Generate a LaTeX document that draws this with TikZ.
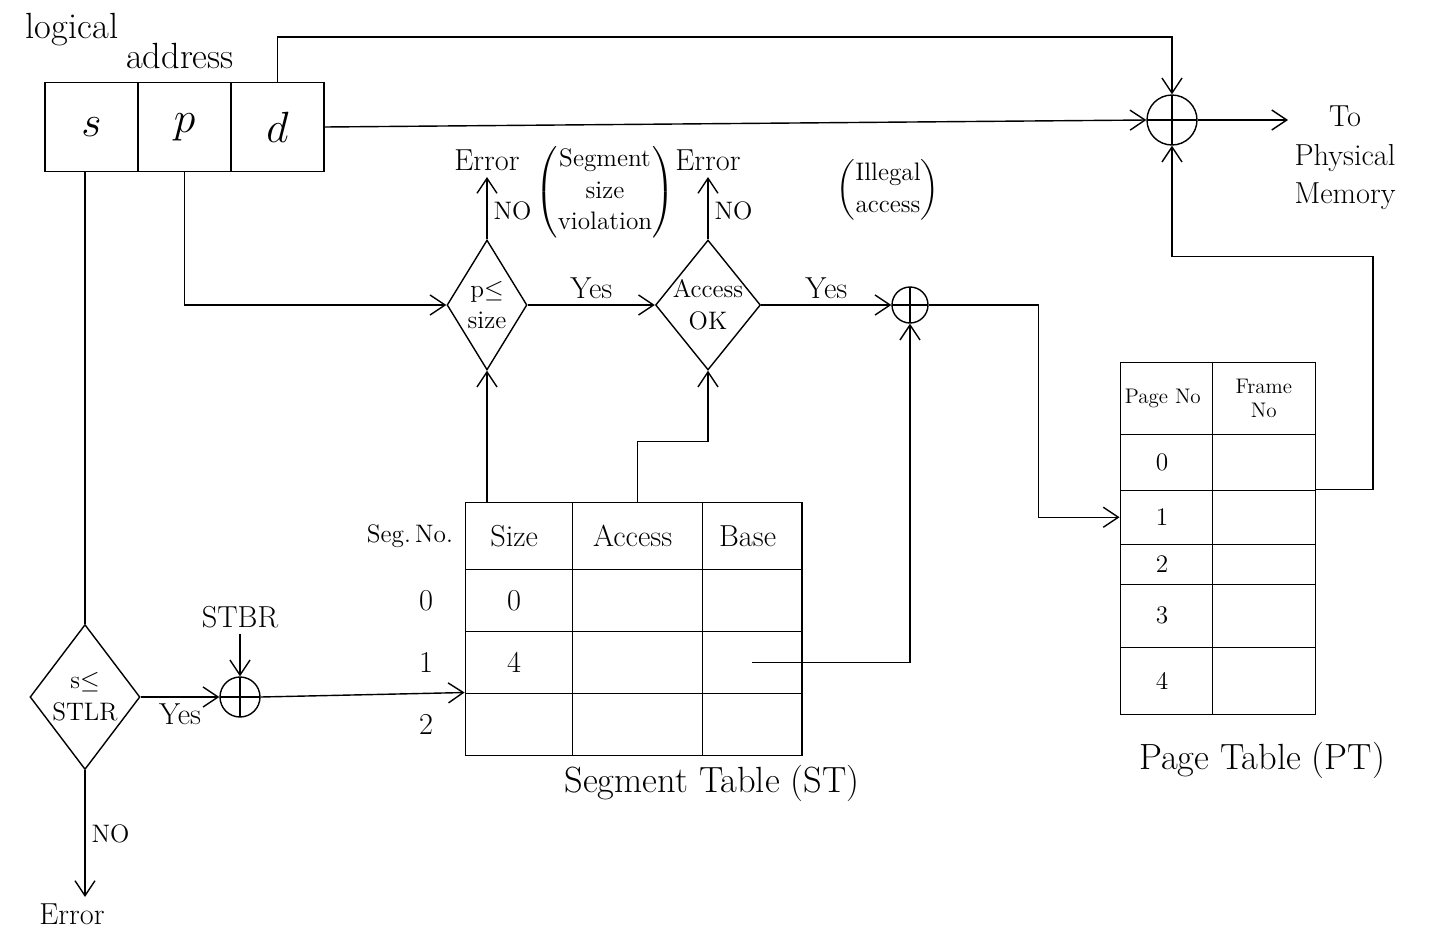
\documentclass[tikz,border=0pt]{standalone}
\usepackage{amsmath}
\usetikzlibrary{arrows.meta, positioning, shapes.geometric, matrix}

\begin{document}
\begin{tikzpicture}[>={Straight Barb[length=3mm, width=4mm]}, x=0.02cm, y=-0.02cm,
  thick, font=\LARGE,
  field/.style={draw, minimum width=1.86cm, minimum height=1.78cm, inner sep=0pt, font=\Huge},
  decision/.style={diamond, draw, aspect=0.7, inner sep=-3pt, align=center, font=\Large},
  adder/.style={circle, draw, inner sep=0pt,
    path picture={\draw (path picture bounding box.north) -- (path picture bounding box.south)
      (path picture bounding box.west) -- (path picture bounding box.east);}},
  cell/.style={draw, inner sep=1pt, align=center, anchor=center},
  note/.style={align=center, font=\Large},
  tag/.style={font=\Large}]
\useasboundingbox (0,0) rectangle (1430,937);

% logical address
\node[font=\huge] (lbl-logical) at (72,30) {logical};
\node[font=\huge] (lbl-address) at (180,56) {address};
\node[field] (s) at (91.5,127) {$s$};
\node[field] (p) at (184.5,127) {$p$};
\node[field] (d) at (277.5,127) {$d$};

\node[adder, minimum size=1cm] (add-top) at (1172,120) {};
\node[align=center, anchor=west] (phys) at (1288,158) {To\\Physical\\Memory};

% checks
\node[decision, minimum width=1.6cm, minimum height=2.6cm] (dec-size) at (487,305) {p$\le$\\size};
\node[decision, minimum width=2.1cm, minimum height=2.6cm] (dec-acc) at (708,305) {Access\\OK};
\node[adder, minimum size=0.72cm] (add-mid) at (910,305) {};
\node (err-size) at (487,160) {Error};
\node (err-acc) at (708,160) {Error};
\node[note] (note-size) at (605,192)
  {$\left(\begin{tabular}{@{}c@{}}Segment\\size\\violation\end{tabular}\right)$};
\node[note] (note-acc) at (888,190)
  {$\left(\begin{tabular}{@{}c@{}}Illegal\\access\end{tabular}\right)$};

% segment table
\matrix (st) [matrix of nodes, anchor=north west, nodes in empty cells,
  column sep=-\pgflinewidth, row sep=-\pgflinewidth,
  nodes={cell, minimum height=1.24cm},
  column 1/.style={nodes={minimum width=2.14cm}},
  column 2/.style={nodes={minimum width=2.6cm}},
  column 3/.style={nodes={minimum width=2.0cm}},
  row 1/.style={nodes={minimum height=1.34cm}}] at (458,495) {
  Size & Access & Base \\
  0 & & \\
  4 & & \\
  & & \\
};
\node[font=\Large] (lbl-segno) [left=1mm of st-1-1] {Seg.\,No.};
\node (lbl-seg0) [left=5mm of st-2-1] {0};
\node (lbl-seg1) [left=5mm of st-3-1] {1};
\node (lbl-seg2) [left=5mm of st-4-1] {2};
\node[font=\huge] (cap-st) at (712,783) {Segment Table (ST)};

% page table
\matrix (pt) [matrix of nodes, anchor=north west, nodes in empty cells,
  column sep=-\pgflinewidth, row sep=-\pgflinewidth,
  nodes={cell, font=\Large},
  column 1/.style={nodes={minimum width=1.84cm}},
  column 2/.style={nodes={minimum width=2.06cm}},
  row 1/.style={nodes={minimum height=1.44cm, font=\large}},
  row 2/.style={nodes={minimum height=1.12cm}},
  row 3/.style={nodes={minimum height=1.08cm}},
  row 4/.style={nodes={minimum height=0.8cm}},
  row 5/.style={nodes={minimum height=1.26cm}},
  row 6/.style={nodes={minimum height=1.34cm}}] at (1113,355) {
  Page No & |[text width=1.4cm]| Frame No \\
  0 & \\
  1 & \\
  2 & \\
  3 & \\
  4 & \\
};
\node[font=\huge] (cap-pt) at (1262,760) {Page Table (PT)};

% segment table base register
\node[decision, minimum width=2.2cm, minimum height=2.9cm] (dec-stlr) at (85,697) {s$\le$\\STLR};
\node[adder, minimum size=0.8cm] (add-low) at (240,697) {};
\node (stbr) at (240,617) {STBR};
\node (err-low) at (72,914) {Error};

\draw[->] (d.north) -- ++(0,-45) -| (add-top.north);
\draw[->] (d.east) -- (add-top.west);
\draw[->] (add-top.east) -- (phys.west |- add-top);
\draw[->] (p.south) |- (dec-size.west);
\draw[->] (dec-size.east) -- node[above] {Yes} (dec-acc.west);
\draw[->] (dec-acc.east) -- node[above] {Yes} (add-mid.west);
\draw[->] (dec-size.north) -- node[tag, right, pos=0.45] {NO} (err-size.south);
\draw[->] (dec-acc.north) -- node[tag, right, pos=0.45] {NO} (err-acc.south);
\draw[->] (dec-size.south |- st-1-1.north) -- (dec-size.south);
\draw[->] (st-1-2.north) -- ++(0,-60) -| (dec-acc.south);
\draw[->] (st-3-3.center) -| (add-mid.south);
\draw[->] (add-mid.east) -- ++(110,0) |- (pt-3-1.west);
\draw[->] (pt-3-2.north east) -- ++(57,0) -- ++(0,-233) -| (add-top.south);
\draw (s.south -| dec-stlr.north) -- (dec-stlr.north);
\draw[->] (dec-stlr.east) -- node[below] {Yes} (add-low.west);
\draw[->] (stbr.south) -- (add-low.north);
\draw[->] (add-low.east) -- (st-4-1.north west);
\draw[->] (dec-stlr.south) -- node[tag, right] {NO} (dec-stlr.south |- err-low.north);
\end{tikzpicture}
\end{document}
